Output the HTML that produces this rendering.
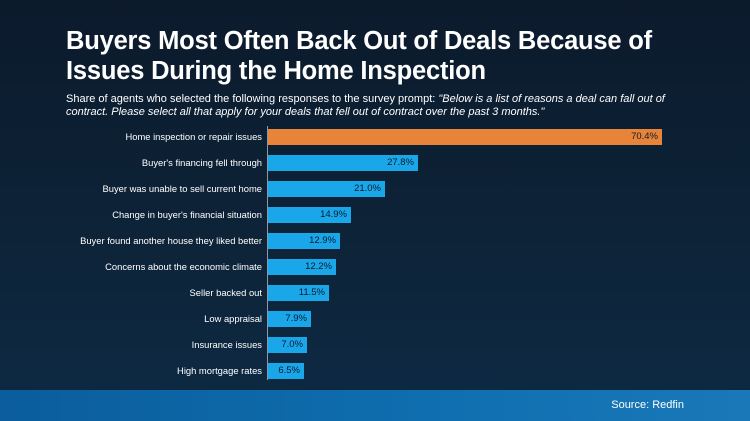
<!DOCTYPE html>
<html><head><style>
body{margin:0;width:750px;height:421px;overflow:hidden;font-family:"Liberation Sans",sans-serif;background:linear-gradient(180deg,#0c1a2c 0%,#0d2439 60%,#0d2a44 100%);position:relative;color:#fff}
h1{position:absolute;left:66px;top:26px;margin:0;font-size:25.5px;line-height:30px;font-weight:bold;letter-spacing:-0.2px}
.sub{position:absolute;left:66px;top:93px;font-size:11px;line-height:13px;width:640px}
.axis{position:absolute;left:267px;top:126px;width:1px;height:254px;background:#8a98a8}
.lab{position:absolute;left:0;width:262px;text-align:right;font-size:9.4px;line-height:16px;white-space:nowrap}
.bar{position:absolute;left:268px;height:16px;background:#1aa7ea;color:#0a1a2a;font-size:9.5px;line-height:16px;text-align:right;box-sizing:border-box;padding-right:4px}
.foot{position:absolute;left:0;top:390px;width:750px;height:31px;background:linear-gradient(90deg,#0b5d9c,#0f6fb0 60%,#1a78b8)}
.src{position:absolute;right:66px;top:9px;font-size:11px}
</style></head><body>
<h1>Buyers Most Often Back Out of Deals Because of<br>Issues During the Home Inspection</h1>
<div class="sub">Share of agents who selected the following responses to the survey prompt: <i>"Below is a list of reasons a deal can fall out of contract. Please select all that apply for your deals that fell out of contract over the past 3 months."</i></div>
<div class="axis"></div>
<div class="lab" style="top:129px">Home inspection or repair issues</div><div class="bar" style="top:129px;width:394px;background:#e8833a">70.4%</div>
<div class="lab" style="top:155px">Buyer's financing fell through</div><div class="bar" style="top:155px;width:150px">27.8%</div>
<div class="lab" style="top:181px">Buyer was unable to sell current home</div><div class="bar" style="top:181px;width:117px">21.0%</div>
<div class="lab" style="top:207px">Change in buyer's financial situation</div><div class="bar" style="top:207px;width:83px">14.9%</div>
<div class="lab" style="top:233px">Buyer found another house they liked better</div><div class="bar" style="top:233px;width:72px">12.9%</div>
<div class="lab" style="top:259px">Concerns about the economic climate</div><div class="bar" style="top:259px;width:68px">12.2%</div>
<div class="lab" style="top:285px">Seller backed out</div><div class="bar" style="top:285px;width:61px">11.5%</div>
<div class="lab" style="top:311px">Low appraisal</div><div class="bar" style="top:311px;width:43px">7.9%</div>
<div class="lab" style="top:337px">Insurance issues</div><div class="bar" style="top:337px;width:39px">7.0%</div>
<div class="lab" style="top:363px">High mortgage rates</div><div class="bar" style="top:363px;width:36px">6.5%</div>
<div class="foot"><div class="src">Source: Redfin</div></div>
</body></html>
